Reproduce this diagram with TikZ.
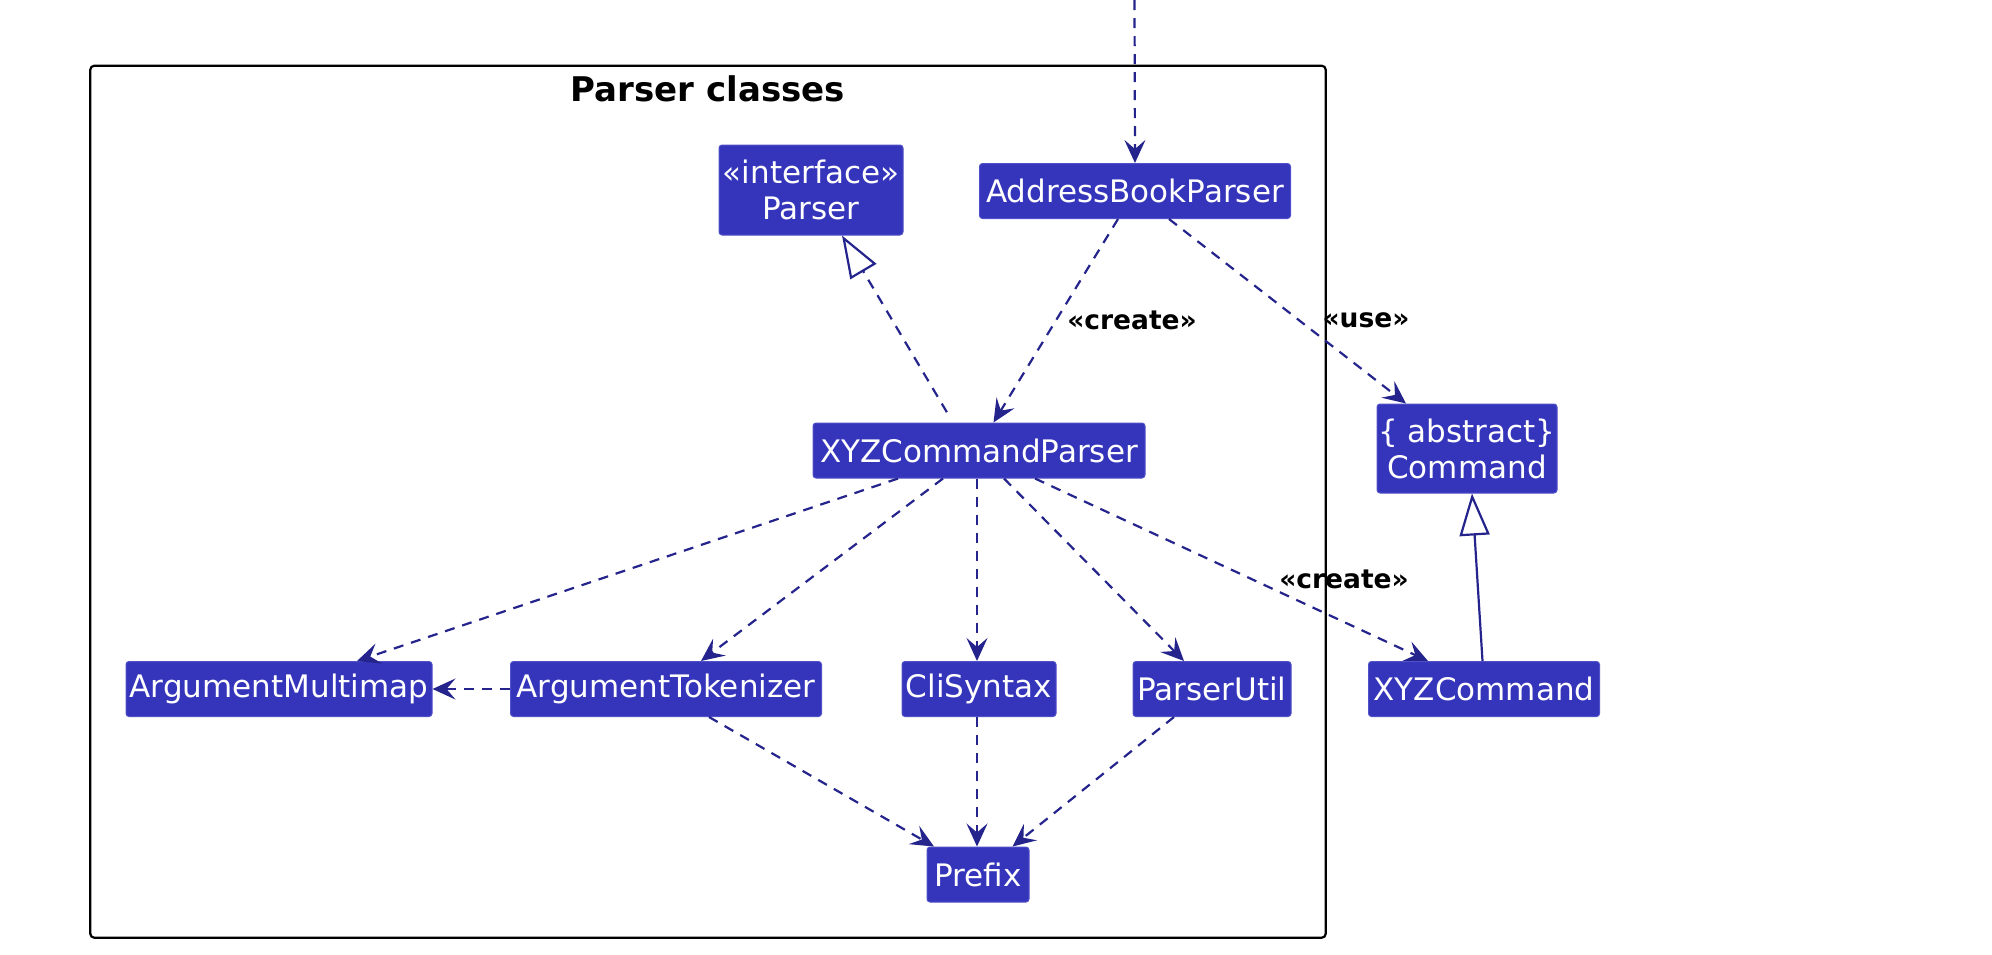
\documentclass[tikz,border=0pt]{standalone}
\usepackage{fontspec}
\setmainfont{DejaVu Sans}
\usetikzlibrary{arrows.meta}
\definecolor{nodefill}{RGB}{53,53,187}
\definecolor{nodeline}{RGB}{80,80,200}
\definecolor{edgec}{RGB}{36,36,140}
\begin{document}
\begin{tikzpicture}[x=1pt,y=-1pt,
  cls/.style={fill=nodefill, draw=nodeline, rounded corners=3pt, text=white,
    font=\fontsize{31}{36}\selectfont, inner sep=0pt, align=center, line width=1pt},
  dep/.style={draw=edgec, line width=2.2pt, dash pattern=on 10pt off 8pt,
    -{Stealth[length=23pt,width=21pt,inset=9pt]}},
  real/.style={draw=edgec, line width=2.2pt, dash pattern=on 10pt off 8pt,
    -{Triangle[open,length=42pt,width=30pt,fill=white]}},
  gen/.style={draw=edgec, line width=2.2pt,
    -{Triangle[open,length=42pt,width=30pt,fill=white]}},
  lbl/.style={font=\bfseries\fontsize{26.5}{30}\selectfont, text=black, inner sep=0pt},
  frame/.style={draw=black, line width=2.2pt, rounded corners=4pt}
]
\useasboundingbox (0,0) rectangle (1992,954);
\draw[frame] (90.3,65.7) rectangle (1325.7,937.7);
\node[font=\bfseries\fontsize{34}{38}\selectfont, inner sep=0pt] (title) at (708,89) {Parser classes};

\node[cls, minimum width=184pt, minimum height=90pt] (parser) at (811,190) {«interface»\\Parser};
\node[cls, minimum width=311pt, minimum height=55pt] (abp) at (1135,191) {AddressBookParser};
\node[cls, minimum width=332pt, minimum height=55pt] (xyzp) at (979,450.5) {XYZCommandParser};
\node[cls, minimum width=180pt, minimum height=89pt] (cmd) at (1467,448.5) {\{ abstract\}\\Command};
\node[cls, minimum width=306pt, minimum height=55pt] (am) at (279,689) {ArgumentMultimap};
\node[cls, minimum width=311pt, minimum height=55pt] (at) at (666,689) {ArgumentTokenizer};
\node[cls, minimum width=154pt, minimum height=55pt] (cli) at (979,689) {CliSyntax};
\node[cls, minimum width=158pt, minimum height=55pt] (pu) at (1212,689) {ParserUtil};
\node[cls, minimum width=231pt, minimum height=55pt] (xc) at (1484,689) {XYZCommand};
\node[cls, minimum width=102pt, minimum height=55pt] (prefix) at (978,874.5) {Prefix};

\coordinate (ext) at (1134.5,0);
\draw[dep] (ext) -- (abp.north);

\draw[real, shorten <=12pt] ([xshift=-26pt]xyzp.north) -- ([xshift=31pt]parser.south);
\draw[dep] ([xshift=-17pt]abp.south) -- ([xshift=14.5pt]xyzp.north);
\draw[dep] ([xshift=34pt]abp.south) -- ([xshift=-61pt]cmd.north);
\draw[gen] ([xshift=-1.5pt]xc.north) -- ([xshift=5pt]cmd.south);

\draw[dep] ([xshift=-81pt]xyzp.south) -- ([xshift=78pt]am.north);
\draw[dep] ([xshift=-36pt]xyzp.south) -- ([xshift=35pt]at.north);
\draw[dep] ([xshift=-2pt]xyzp.south) -- ([xshift=-2pt]cli.north);
\draw[dep] ([xshift=25pt]xyzp.south) -- ([xshift=-28pt]pu.north);
\draw[dep] ([xshift=56pt]xyzp.south) -- ([xshift=-56pt]xc.north);

\draw[dep] (at.west) -- (am.east);
\draw[dep] ([xshift=43pt]at.south) -- ([xshift=-44pt]prefix.north);
\draw[dep] ([xshift=-2pt]cli.south) -- ([xshift=-1pt]prefix.north);
\draw[dep] ([xshift=-38pt]pu.south) -- ([xshift=34.5pt]prefix.north);

\node[lbl] (l1) at (1132,320) {«create»};
\node[lbl] (l2) at (1366,320) {«use»};
\node[lbl] (l3) at (1344,579) {«create»};
\end{tikzpicture}
\end{document}
